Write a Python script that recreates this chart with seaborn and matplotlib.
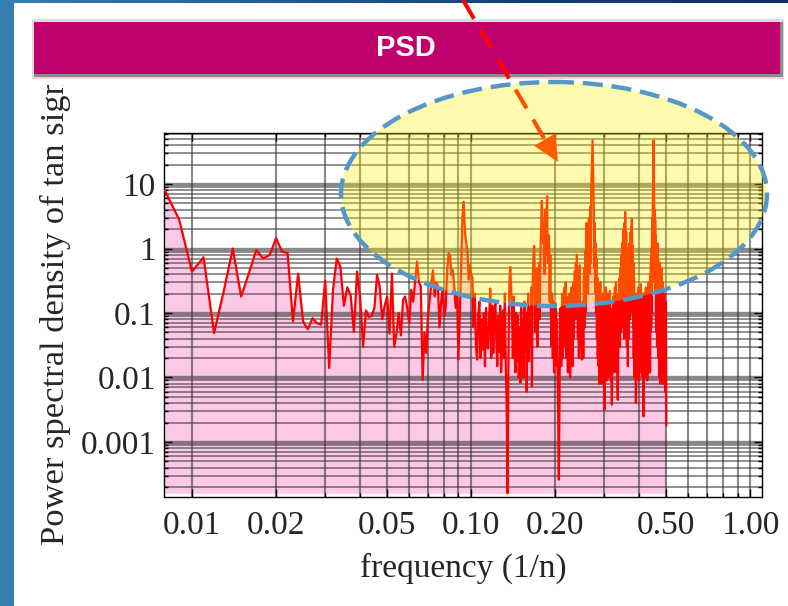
import numpy as np
import pandas as pd
import matplotlib
matplotlib.use("Agg")
import matplotlib.pyplot as plt
import seaborn as sns
from matplotlib.patches import Ellipse, Rectangle, Polygon
from matplotlib.colors import LinearSegmentedColormap
from matplotlib.transforms import Bbox, TransformedBbox
from matplotlib.ticker import FixedLocator, FixedFormatter, NullFormatter

# ---------------------------------------------------------------------------
# Periodogram of the tan signal: bin k sits at frequency k / sample_count
# ---------------------------------------------------------------------------
sample_count = 1000
freq_bins = list(range(8, 501))

psd_values = [
    7.9, 2.8,                                                      # 0.008-0.009
    0.44, 0.73, 0.049, 0.22, 1.0, 0.18, 0.42, 0.95, 0.70, 0.80,    # 0.010-
    1.45, 0.90, 0.85, 0.074, 0.41, 0.074, 0.056, 0.083, 0.070, 0.066,  # 0.020-
    0.32, 0.014, 0.23, 0.70, 0.52, 0.13, 0.25, 0.19, 0.051, 0.44,  # 0.030-
    0.18, 0.030, 0.11, 0.087, 0.09, 0.12, 0.39, 0.26, 0.08, 0.13,  # 0.040-
    0.18, 0.048, 0.41, 0.030, 0.048, 0.10, 0.045, 0.16, 0.18, 0.12,  # 0.050-
    0.069, 0.23, 0.15, 0.32, 0.63, 0.30, 0.26, 0.0092, 0.05, 0.024,  # 0.060-
    0.09, 0.16, 0.3, 0.46, 0.18, 0.3, 0.26, 0.06, 0.15, 0.24,      # 0.070-
    0.09, 0.12, 0.45, 0.85, 0.79, 0.39, 0.46, 0.26, 0.12, 0.2,     # 0.080-
    0.019, 0.1, 0.5, 3.2, 5.3, 1.8, 1.2, 0.9, 0.33, 0.55,          # 0.090-
    0.4, 0.35, 0.06, 0.2, 0.03, 0.019, 0.09, 0.15, 0.02, 0.08,     # 0.100-
    0.027, 0.1, 0.015, 0.12, 0.03, 0.028, 0.09, 0.24, 0.02, 0.13,  # 0.110-
    0.024, 0.08, 0.15, 0.04, 0.015, 0.09, 0.025, 0.13, 0.012, 0.07,  # 0.120-
    0.11, 0.02, 0.2, 0.015, 0.0035, 0.00016, 0.03, 0.3, 0.52, 0.25,  # 0.130-
    0.12, 0.02, 0.18, 0.035, 0.012, 0.1, 0.018, 0.09, 0.01, 0.06,  # 0.140-
    0.0083, 0.12, 0.015, 0.08, 0.01, 0.15, 0.025, 0.1, 0.006, 0.07,  # 0.150-
    0.2, 0.018, 0.12, 0.03, 0.25, 0.0072, 0.3, 0.7, 1.1, 0.4,      # 0.160-
    0.05, 0.5, 0.1, 0.03, 0.35, 0.6, 0.08, 0.9, 2.0, 5.5,          # 0.170-
    3.0, 1.2, 2.5, 0.4, 4.0, 0.8, 3.5, 6.5, 0.6, 1.0,              # 0.180-
    1.6, 0.15, 0.8, 0.1, 0.03, 0.2, 0.02, 0.15, 0.012, 0.1,        # 0.190-
    0.02, 0.14, 0.015, 0.08, 0.01, 0.002, 0.00026, 0.003, 0.05, 0.12,  # 0.200-
    0.015, 0.09, 0.2, 0.02, 0.15, 0.03, 0.25, 0.04, 0.3, 0.02,     # 0.210-
    0.18, 0.035, 0.012, 0.14, 0.025, 0.2, 0.01, 0.12, 0.25, 0.03,  # 0.220-
    0.15, 0.015, 0.3, 0.04, 0.2, 0.45, 0.08, 0.6, 0.1, 0.8,        # 0.230-
    0.4, 0.04, 0.35, 0.02, 0.22, 0.55, 0.06, 0.12, 0.03, 0.019,    # 0.240-
    0.08, 0.15, 0.02, 0.3, 0.5, 0.06, 0.9, 0.1, 1.5, 2.5,          # 0.250-
    0.3, 2.0, 0.2, 1.6, 3.0, 0.4, 2.2, 4.5, 0.6, 8.0,              # 0.260-
    15, 25, 48, 20, 8.0, 3.5, 0.5, 2.5, 0.2, 1.2,                  # 0.270-
    0.1, 0.7, 0.04, 0.35, 0.02, 0.25, 0.015, 0.15, 0.008, 0.1,     # 0.280-
    0.3, 0.02, 0.18, 0.008, 0.08, 0.2, 0.012, 0.12, 0.01, 0.007,   # 0.290-
    0.0032, 0.01, 0.09, 0.25, 0.015, 0.14, 0.009, 0.1, 0.2, 0.02,  # 0.300-
    0.01, 0.08, 0.15, 0.012, 0.22, 0.03, 0.009, 0.06, 0.009, 0.0038,  # 0.310-
    0.012, 0.12, 0.02, 0.18, 0.03, 0.012, 0.1, 0.25, 0.02, 0.14,   # 0.320-
    0.3, 0.03, 0.012, 0.12, 0.007, 0.0045, 0.02, 0.2, 0.03, 0.15,  # 0.330-
    0.35, 0.03, 0.25, 0.5, 0.05, 0.8, 0.1, 1.2, 0.06, 0.9,         # 0.340-
    2.0, 0.15, 1.5, 0.04, 2.5, 0.3, 3.7, 1.5, 0.1, 1.8,            # 0.350-
    0.2, 0.03, 1.0, 0.08, 0.015, 0.3, 0.8, 0.04, 0.5, 1.2,         # 0.360-
    0.08, 0.9, 1.8, 0.15, 2.2, 0.3, 2.9, 1.4, 0.1, 1.1,            # 0.370-
    0.06, 0.6, 0.02, 0.35, 0.01, 0.2, 0.02, 0.15, 0.01, 0.004,     # 0.380-
    0.012, 0.1, 0.2, 0.015, 0.12, 0.01, 0.07, 0.25, 0.02, 0.009,   # 0.390-
    0.15, 0.015, 0.18, 0.012, 0.1, 0.28, 0.02, 0.012, 0.06, 0.14,  # 0.400-
    0.01, 0.2, 0.02, 0.008, 0.0025, 0.01, 0.09, 0.2, 0.012, 0.15,  # 0.410-
    0.01, 0.1, 0.25, 0.015, 0.18, 0.01, 0.12, 0.009, 0.02, 0.2,    # 0.420-
    0.03, 0.3, 0.015, 0.15, 0.012, 0.09, 0.22, 0.012, 0.4, 0.05,   # 0.430-
    0.6, 0.06, 1.0, 0.1, 1.8, 3.0, 0.3, 5.0, 10, 22,               # 0.440-
    48, 18, 6.0, 0.5, 4.0, 0.3, 2.8, 0.2, 1.6, 0.1,                # 0.450-
    1.1, 0.05, 0.8, 0.03, 0.5, 1.2, 0.06, 0.7, 0.02, 0.4,          # 0.460-
    0.05, 0.01, 0.3, 0.02, 0.6, 0.04, 0.008, 0.15, 0.35, 0.015,    # 0.470-
    0.5, 0.03, 0.01, 0.25, 0.009, 0.1, 0.3, 0.008, 0.15, 0.008,    # 0.480-
    0.07, 0.2, 0.012, 0.12, 0.01, 0.09, 0.006, 0.05, 0.15, 0.01,   # 0.490-
    0.0018,                                                        # 0.500
]

x_major = [0.01, 0.02, 0.05, 0.1, 0.2, 0.5, 1.0]
x_major_labels = ["0.01", "0.02", "0.05", "0.10", "0.20", "0.50", "1.00"]
y_major = [0.001, 0.01, 0.1, 1, 10]
y_major_labels = ["0.001", "0.01", "0.1", "1", "10"]

fill_floor = 1.6e-4
x_limits = (0.00794, 1.10)
y_limits = (1.40e-4, 62.0)

df = pd.DataFrame({
    "frequency": np.array(freq_bins) / sample_count,
    "psd": psd_values,
})

# ---------------------------------------------------------------------------
sns.set_theme(style="ticks")
plt.rcParams["font.family"] = ["Liberation Serif", "DejaVu Serif"]
plt.rcParams["axes.unicode_minus"] = False

W, H = 788, 606
fig = plt.figure(figsize=(W / 100, H / 100), dpi=100)

# slide backdrop, white panel and title banner (pixel coordinates)
bg = fig.add_axes([0, 0, 1, 1], zorder=0)
bg.set_xlim(0, W)
bg.set_ylim(H, 0)
bg.axis("off")
slide_cmap = LinearSegmentedColormap.from_list(
    "slide", ["#3580b0", "#225f92", "#153f74", "#0f2f62"])
bg.imshow(np.linspace(0, 1, 256)[None, :], cmap=slide_cmap,
          extent=(0, W, H, 0), aspect="auto", zorder=0)
bg.add_patch(Rectangle((14, 3), W - 14, H - 3, facecolor="white",
                       edgecolor="none", zorder=1))
bg.add_patch(Rectangle((32, 19), 752, 60, facecolor="#dcdcdc",
                       edgecolor="none", zorder=2))
bg.add_patch(Rectangle((34, 22), 749, 55, facecolor="#8c8c8c",
                       edgecolor="none", zorder=2))
bg.add_patch(Rectangle((34, 22), 746, 52, facecolor="#c0006c",
                       edgecolor="none", zorder=3))
bg.text(406, 48, "PSD", color="white", fontsize=21, fontweight="bold",
        family=["Liberation Sans", "DejaVu Sans"], ha="center", va="center",
        zorder=4)

# main spectrum axes
ax = fig.add_axes([164 / W, 1 - 497 / H, 598 / W, 364 / H], zorder=1)
ax.set_facecolor("white")
ax.set_xscale("log")
ax.set_yscale("log")

ax.fill_between(df["frequency"], df["psd"], fill_floor,
                color="#fcc8e6", lw=0, zorder=1)
sns.lineplot(data=df, x="frequency", y="psd", ax=ax, color="#ff0000",
             lw=1.6, estimator=None, sort=False, zorder=3)

ax.set_xlim(*x_limits)
ax.set_ylim(*y_limits)

x_minor = [m * 10.0 ** e for e in (-2, -1) for m in range(1, 10)] + [1.0]
x_minor = [v for v in x_minor if v not in x_major]
y_minor = [m * 10.0 ** e for e in (-4, -3, -2, -1, 0, 1) for m in range(2, 10)]
y_minor = [v for v in y_minor if y_limits[0] <= v <= y_limits[1]]

ax.xaxis.set_major_locator(FixedLocator(x_major))
ax.xaxis.set_major_formatter(FixedFormatter(x_major_labels))
ax.xaxis.set_minor_locator(FixedLocator(x_minor))
ax.xaxis.set_minor_formatter(NullFormatter())
ax.yaxis.set_major_locator(FixedLocator(y_major))
ax.yaxis.set_major_formatter(FixedFormatter(y_major_labels))
ax.yaxis.set_minor_locator(FixedLocator(y_minor))
ax.yaxis.set_minor_formatter(NullFormatter())

ax.set_axisbelow("line")
ax.grid(False)
grid_style = dict(color="#3a3a3a", alpha=0.6)
ax.grid(True, which="both", axis="x", lw=1.5, **grid_style)
ax.grid(True, which="major", axis="y", lw=2.4, **grid_style)
ax.grid(True, which="minor", axis="y", lw=1.3, **grid_style)

ax.tick_params(which="both", direction="in", top=True, right=True,
               color="black", width=1.0)
ax.tick_params(which="major", length=6)
ax.tick_params(which="minor", length=3)
ax.tick_params(axis="x", which="major", labelsize=24, pad=10)
ax.tick_params(axis="y", which="major", labelsize=24, pad=6)
for spine in ax.spines.values():
    spine.set_color("black")
    spine.set_linewidth(1.0)

ax.set_xlabel("frequency (1/n)", fontsize=24, va="top")
ax.xaxis.set_label_coords(0.5, -0.152)
ax.set_ylabel("")

ylab = fig.text(55 / W, 1 - 545 / H, "Power spectral density of tan signal",
                rotation=90, ha="center", va="bottom", fontsize=24.8)
ylab.set_clip_box(TransformedBbox(Bbox([[0, 0], [1, 1 - 85 / H]]),
                                  fig.transFigure))
ylab.set_clip_on(True)

# highlight: dashed arrow into a translucent yellow ellipse
ov = fig.add_axes([0, 0, 1, 1], zorder=2)
ov.set_xlim(0, W)
ov.set_ylim(H, 0)
ov.axis("off")

tip = np.array([558.0, 162.0])
start = np.array([463.0, 0.0])
direction = (tip - start) / np.linalg.norm(tip - start)
normal = np.array([direction[1], -direction[0]])
base = tip - 26 * direction
ov.plot([start[0], base[0]], [start[1], base[1]], color="#ff0000", lw=2.9,
        linestyle=(0, (5.4, 3.2)), solid_capstyle="butt", zorder=1)
ov.add_patch(Polygon([tip, base + 12.3 * normal, base - 12.3 * normal],
                     closed=True, facecolor="#ff1500", edgecolor="none",
                     zorder=1))

ov.add_patch(Ellipse((554, 194), 426, 224, facecolor=(1.0, 0.94, 0.0, 0.32),
                     edgecolor="none", zorder=2))
ov.add_patch(Ellipse((554, 194), 426, 224, fill=False, edgecolor="#5597c8",
                     lw=3.2, linestyle=(0, (4.5, 2.0)), zorder=3))

fig.savefig("out.png", dpi=100)
